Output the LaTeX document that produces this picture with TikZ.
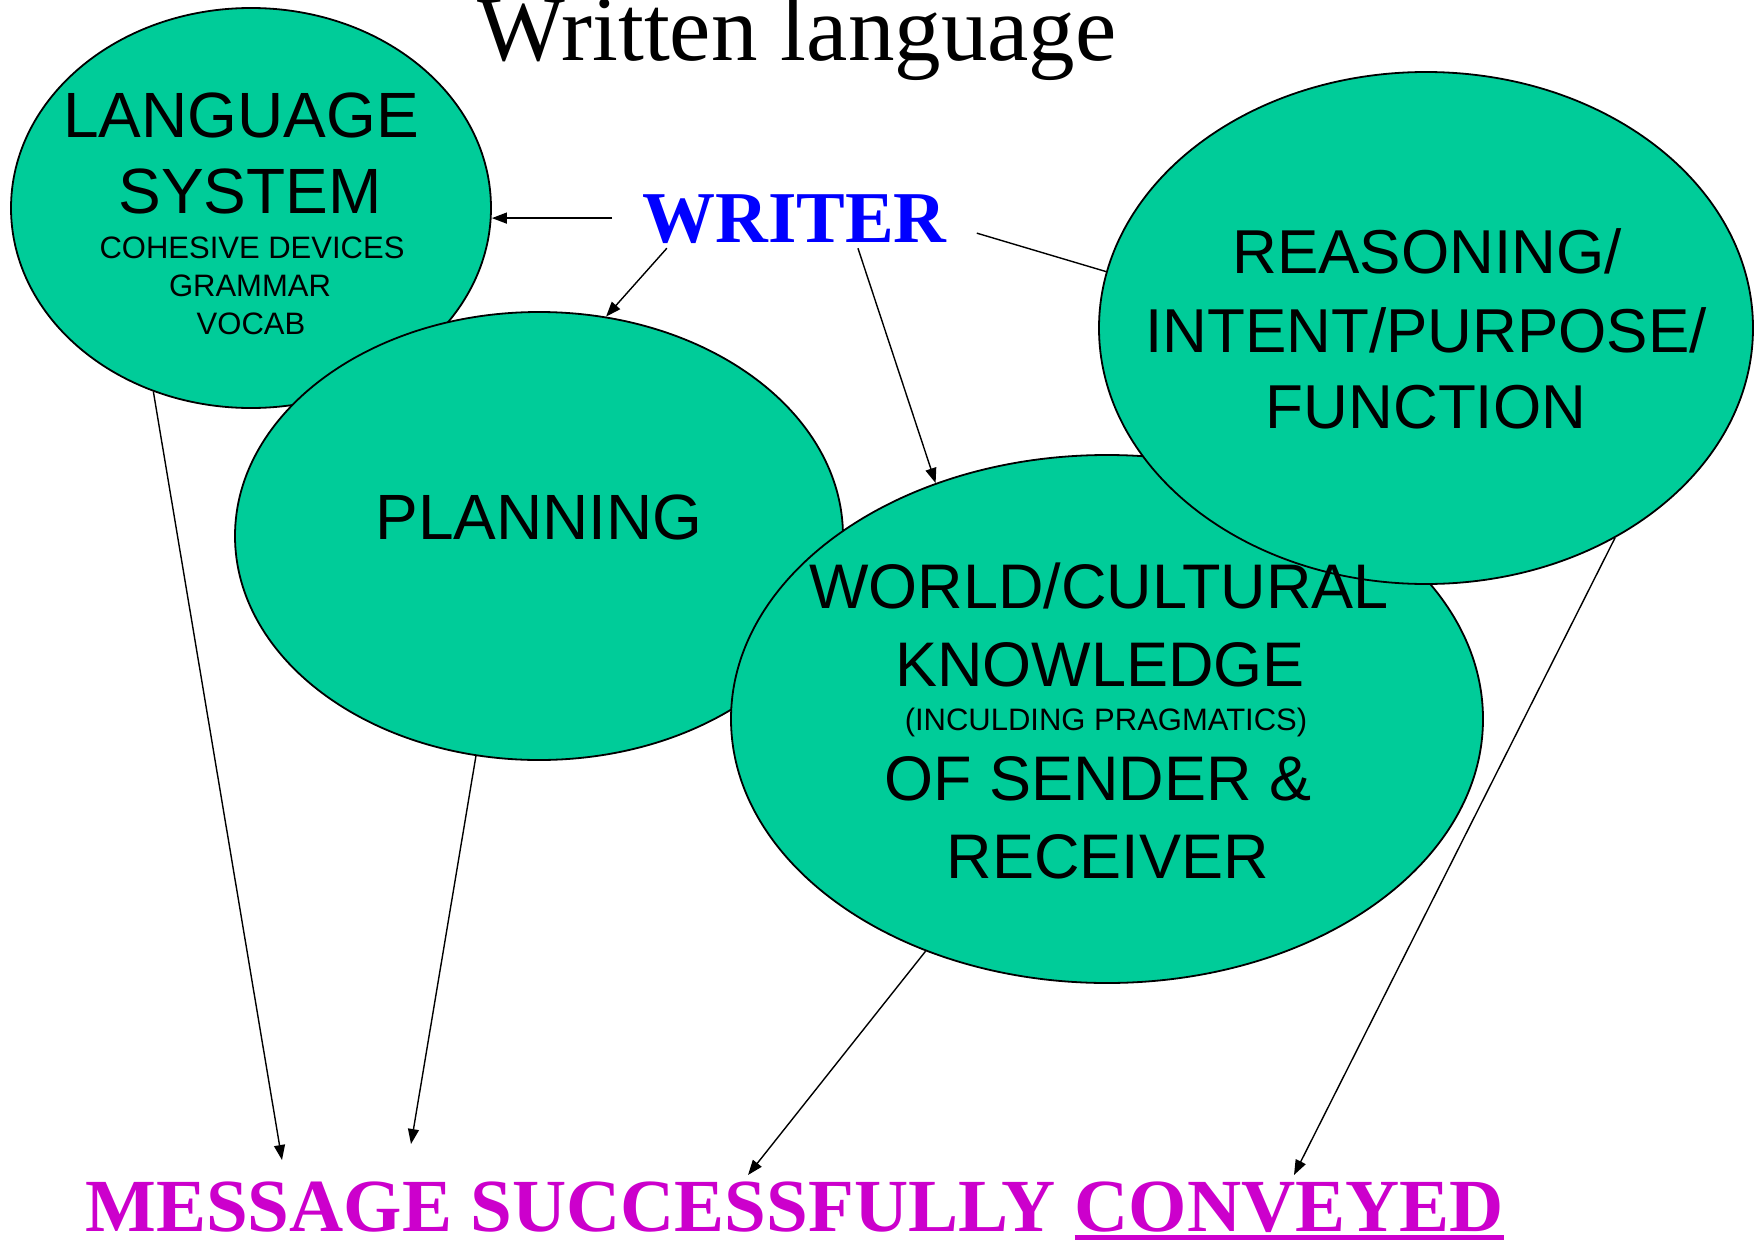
\documentclass[tikz,border=0pt]{standalone}
\usepackage{fontspec}
\setmainfont{Liberation Sans}
\newfontfamily\tnr{Liberation Serif}
\usetikzlibrary{shapes.geometric,arrows.meta,calc}
\definecolor{blob}{RGB}{0,204,153}
\definecolor{wblue}{RGB}{0,0,255}
\definecolor{msgcol}{RGB}{204,0,204}
\newcommand\thickul[1]{\setbox0\hbox{#1}\rlap{\rule[-9pt]{\wd0}{5pt}}\box0}
\begin{document}
\begin{tikzpicture}[x=1pt,y=-1pt,
  blobnode/.style={ellipse, draw=black, line width=1.8pt, fill=blob, inner sep=0pt},
  lbl/.style={anchor=base, inner sep=0pt, font=\fontsize{#1}{#1}\selectfont},
  conn/.style={line width=1.4pt, -{Triangle[length=15pt,width=11pt]}},
  plainconn/.style={line width=1.4pt}]
\useasboundingbox[fill=white] (0,0) rectangle (1754,1242);

% ellipses
\node[blobnode, minimum width=480pt, minimum height=400pt] (lang) at (251,208) {};
\node[blobnode, minimum width=608pt, minimum height=448pt] (plan) at (539,536) {};
\node[blobnode, minimum width=752pt, minimum height=528pt] (world) at (1107,719) {};
\node[blobnode, minimum width=654pt, minimum height=512pt] (reason) at (1426,328) {};

% title
\node[anchor=base, inner sep=0pt, font=\tnr\fontsize{93}{93}\selectfont] (title) at (797,60) {Written language};

% language system texts
\node[lbl=64] (lang1) at (241,137) {LANGUAGE};
\node[lbl=64] (lang2) at (250,213) {SYSTEM};
\node[lbl=31] (lang3) at (252,258) {COHESIVE DEVICES};
\node[lbl=31] (lang4) at (250,296) {GRAMMAR};
\node[lbl=31] (lang5) at (251,334) {VOCAB};

% planning
\node[lbl=64] (plan1) at (539,539) {PLANNING};

% reasoning
\node[lbl=62] (reas1) at (1427,273) {REASONING/};
\node[lbl=62] (reas2) at (1426,352) {INTENT/PURPOSE/};
\node[lbl=62] (reas3) at (1426,428) {FUNCTION};

% world
\node[lbl=63] (world1) at (1099,608) {WORLD/CULTURAL};
\node[lbl=63] (world2) at (1100,686) {KNOWLEDGE};
\node[lbl=31] (world3) at (1106,730) {(INCULDING PRAGMATICS)};
\node[lbl=63] (world4) at (1098,800) {OF SENDER \&};
\node[lbl=63] (world5) at (1108,878) {RECEIVER};

% writer
\node[anchor=base, inner xsep=30pt, inner ysep=6pt, text depth=0pt,
      font=\tnr\bfseries\fontsize{73}{73}\selectfont, text=wblue] (writer) at (794.5,242) {WRITER};

% message
\node[anchor=base, inner sep=0pt, font=\tnr\bfseries\fontsize{75}{75}\selectfont, text=msgcol] (message) at (794.5,1231) {MESSAGE SUCCESSFULLY \thickul{CONVEYED}};

\coordinate (m1) at (282,1160);
\coordinate (m2) at (411,1144);
\coordinate (m3) at (748,1175);
\coordinate (m4) at (1294,1175);

% connectors from writer
\draw[conn] (writer.west) -- (lang.east |- writer.west);
\draw[conn] ($(writer.south west)!0.15!(writer.south east)$) -- (plan.73);
\draw[conn] ($(writer.south west)!0.674!(writer.south east)$) -- (world.126);
\draw[plainconn] ($(writer.east)!0.5!(writer.south east)$) -- (reason.170);

% connectors to message
\draw[conn] (lang.242) -- (m1);
\draw[conn] (plan.254) -- (m2);
\draw[conn] (world.232) -- (m3);
\draw[conn] (reason.312) -- (m4);
\end{tikzpicture}
\end{document}
